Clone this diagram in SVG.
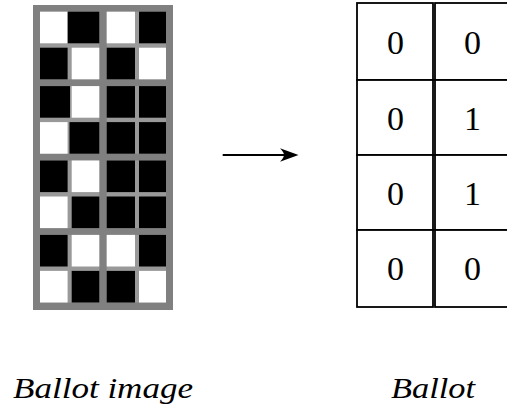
<svg xmlns="http://www.w3.org/2000/svg" width="507" height="412" viewBox="0 0 507 412">
<style>
.frame{fill:#808080}
.blk{fill:#999999}
.w{fill:#ffffff}
.b{fill:#000000}
.cell{fill:#ffffff;stroke:#000;stroke-width:1.8}
.dig{font-size:34px;text-anchor:middle;fill:#000}
.lbl{font-style:italic;font-size:29px;fill:#000}
</style>
<g id="ballot-image">
<rect class="frame" x="33" y="5" width="140" height="305"/>
<rect class="blk" x="40" y="11.7" width="59.3" height="67.6"/>
<rect class="blk" x="106.7" y="11.7" width="59.3" height="67.6"/>
<rect class="blk" x="40" y="86.1" width="59.3" height="67.6"/>
<rect class="blk" x="106.7" y="86.1" width="59.3" height="67.6"/>
<rect class="blk" x="40" y="160.5" width="59.3" height="67.6"/>
<rect class="blk" x="106.7" y="160.5" width="59.3" height="67.6"/>
<rect class="blk" x="40" y="234.9" width="59.3" height="67.6"/>
<rect class="blk" x="106.7" y="234.9" width="59.3" height="67.6"/>
<rect class="w" x="40" y="11.7" width="27.6" height="31.6"/>
<rect class="b" x="67.7" y="11.7" width="31.6" height="31.6"/>
<rect class="w" x="106.7" y="11.7" width="28.3" height="31.6"/>
<rect class="b" x="139" y="11.7" width="27" height="31.6"/>
<rect class="b" x="40" y="47.7" width="27.6" height="31.6"/>
<rect class="w" x="71.7" y="47.7" width="27.6" height="31.6"/>
<rect class="b" x="106.7" y="47.7" width="28.3" height="31.6"/>
<rect class="w" x="139" y="47.7" width="27" height="31.6"/>
<rect class="b" x="40" y="86.1" width="30" height="31.6"/>
<rect class="w" x="71.7" y="86.1" width="27.6" height="31.6"/>
<rect class="b" x="106.7" y="86.1" width="28.3" height="31.6"/>
<rect class="b" x="139" y="86.1" width="27" height="31.6"/>
<rect class="w" x="40" y="122.1" width="27.6" height="31.6"/>
<rect class="b" x="69.5" y="122.1" width="29.8" height="31.6"/>
<rect class="b" x="106.7" y="122.1" width="28.3" height="31.6"/>
<rect class="b" x="139" y="122.1" width="27" height="31.6"/>
<rect class="b" x="40" y="160.5" width="27.6" height="31.6"/>
<rect class="w" x="71.7" y="160.5" width="27.6" height="31.6"/>
<rect class="b" x="106.7" y="160.5" width="28.3" height="31.6"/>
<rect class="b" x="139" y="160.5" width="27" height="31.6"/>
<rect class="w" x="40" y="196.5" width="27.6" height="31.6"/>
<rect class="b" x="71.7" y="196.5" width="27.6" height="31.6"/>
<rect class="b" x="106.7" y="196.5" width="28.3" height="31.6"/>
<rect class="b" x="139" y="196.5" width="27" height="31.6"/>
<rect class="b" x="40" y="234.9" width="27.6" height="31.6"/>
<rect class="w" x="71.7" y="234.9" width="27.6" height="31.6"/>
<rect class="w" x="106.7" y="234.9" width="28.3" height="31.6"/>
<rect class="b" x="139" y="234.9" width="27" height="31.6"/>
<rect class="w" x="40" y="270.9" width="27.6" height="31.6"/>
<rect class="b" x="71.7" y="270.9" width="27.6" height="31.6"/>
<rect class="b" x="106.7" y="270.9" width="28.3" height="31.6"/>
<rect class="w" x="139" y="270.9" width="27" height="31.6"/>
<text class="lbl" font-family="Liberation Serif, Times New Roman, serif" x="13" y="398" textLength="180" lengthAdjust="spacingAndGlyphs">Ballot image</text>
</g>
<g id="ballot">
<rect class="cell" x="357" y="3" width="76" height="77"/>
<rect class="cell" x="435" y="3" width="76" height="77"/>
<rect class="cell" x="357" y="80" width="76" height="75"/>
<rect class="cell" x="435" y="80" width="76" height="75"/>
<rect class="cell" x="357" y="155" width="76" height="75"/>
<rect class="cell" x="435" y="155" width="76" height="75"/>
<rect class="cell" x="357" y="230" width="76" height="77"/>
<rect class="cell" x="435" y="230" width="76" height="77"/>
<g font-family="Liberation Serif, Times New Roman, serif">
<text class="dig" x="395.5" y="53.5">0</text>
<text class="dig" x="472.5" y="53.5">0</text>
<text class="dig" x="395.5" y="130">0</text>
<text class="dig" x="472.5" y="130">1</text>
<text class="dig" x="395.5" y="205">0</text>
<text class="dig" x="472.5" y="205">1</text>
<text class="dig" x="395.5" y="280">0</text>
<text class="dig" x="472.5" y="280">0</text>
</g>
<text class="lbl" font-family="Liberation Serif, Times New Roman, serif" x="391" y="398" textLength="84" lengthAdjust="spacingAndGlyphs">Ballot</text>
</g>
<g id="connectors">
<line x1="222.7" y1="155" x2="285" y2="155" stroke="#000" stroke-width="2.2"/>
<path d="M280,148.3 Q284,152.5 284,155 Q284,157.5 280,161.7 L298.5,155 Z" fill="#000"/>
</g>
</svg>
